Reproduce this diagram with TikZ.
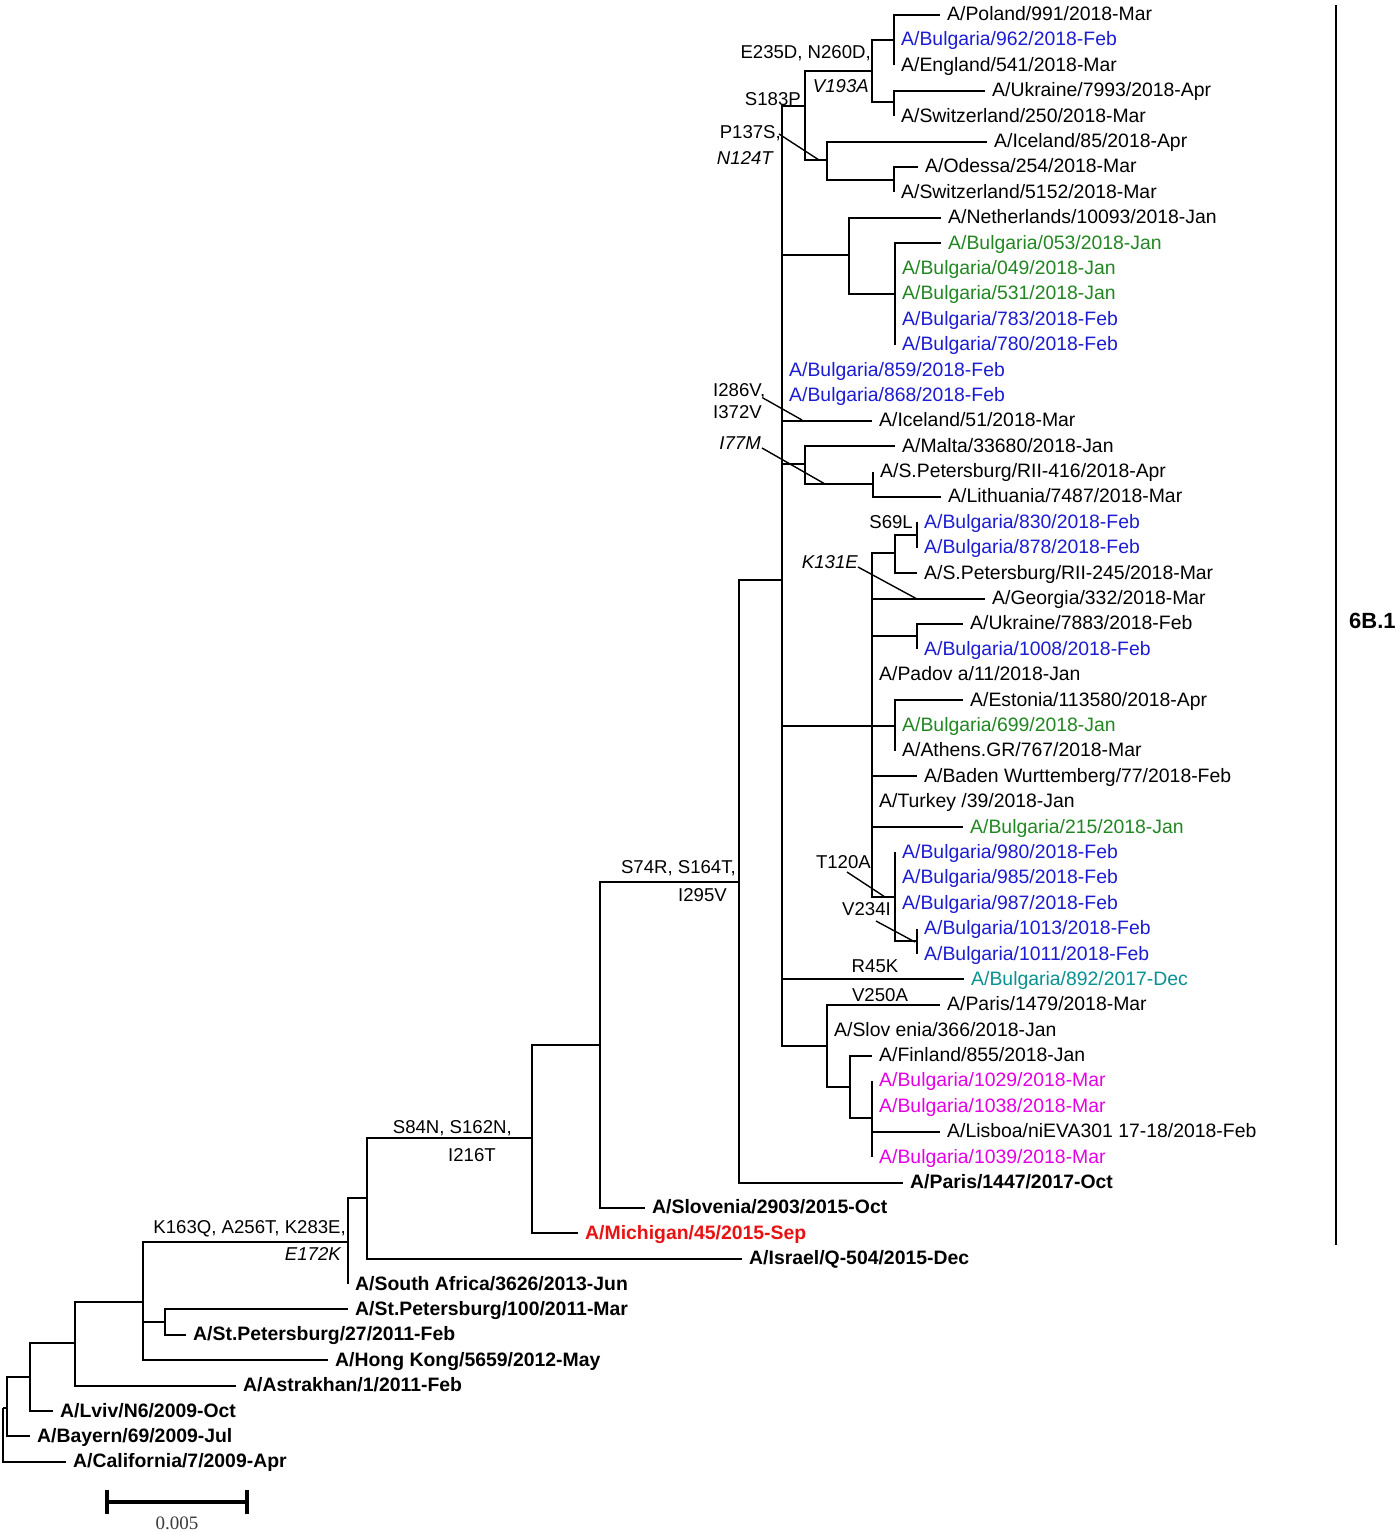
\documentclass[tikz,border=0pt]{standalone}
\usepackage{fontspec}
\setmainfont{Liberation Sans}
\newfontfamily\scalefont{Liberation Serif}
\definecolor{tblue}{RGB}{28,28,210}
\definecolor{tgreen}{RGB}{34,135,34}
\definecolor{tteal}{RGB}{10,145,145}
\definecolor{tmag}{RGB}{228,0,228}
\definecolor{tred}{RGB}{232,18,18}
\definecolor{sgray}{RGB}{60,60,60}
\begin{document}
\begin{tikzpicture}[x=1pt,y=-1pt,
  br/.style={line width=2pt},
  tip/.style={anchor=west, inner xsep=7pt, inner ysep=0pt, text height=14pt, text depth=2pt, font=\fontsize{19.4pt}{23pt}\selectfont},
  btip/.style={tip, font=\fontsize{19.4pt}{23pt}\selectfont\bfseries},
  mut/.style={inner sep=0pt, text height=13.3pt, text depth=0pt, font=\fontsize{18.6pt}{22pt}\selectfont},
  imut/.style={mut, font=\fontsize{18.6pt}{22pt}\selectfont\itshape},
  ann/.style={line width=1.4pt}]
\useasboundingbox (0,0) rectangle (1400,1532);
\fill[white] (0,0) rectangle (1400,1532);

% internal nodes
\coordinate (R) at (3,1408);
\coordinate (n7) at (7,1408);
\coordinate (n30) at (30,1377);
\coordinate (n75) at (75,1343);
\coordinate (n143) at (143,1302);
\coordinate (n165) at (165,1322);
\coordinate (n348) at (348,1242);
\coordinate (n367) at (367,1198);
\coordinate (n532) at (532,1138);
\coordinate (n600) at (600,1045);
\coordinate (n739) at (739,882);
\coordinate (n782) at (782,580);
\coordinate (a805) at (805,106);
\coordinate (a872) at (872,71);
\coordinate (a894) at (894,39.9);
\coordinate (b894) at (894,102);
\coordinate (a827) at (827,160);
\coordinate (c894) at (894,180);
\coordinate (a849) at (849,255);
\coordinate (a895) at (895,293.8);
\coordinate (b805) at (805,464);
\coordinate (a873) at (873,484);
\coordinate (k872) at (872,726);
\coordinate (c895) at (895,553);
\coordinate (a917) at (917,535);
\coordinate (b917) at (917,636);
\coordinate (d895) at (895,726);
\coordinate (e895) at (895,897);
\coordinate (d917) at (917,941);
\coordinate (b827) at (827,1046);
\coordinate (a850) at (850,1087);
\coordinate (b872) at (872,1118);

% tips
\node[tip] (t1) at (940,14.5) {A/Poland/991/2018-Mar};
\node[tip,text=tblue] (t2) at (894,39.9) {A/Bulgaria/962/2018-Feb};
\node[tip] (t3) at (894,65.3) {A/England/541/2018-Mar};
\node[tip] (t4) at (985,90.7) {A/Ukraine/7993/2018-Apr};
\node[tip] (t5) at (894,116.1) {A/Switzerland/250/2018-Mar};
\node[tip] (t6) at (987,141.5) {A/Iceland/85/2018-Apr};
\node[tip] (t7) at (918,166.8) {A/Odessa/254/2018-Mar};
\node[tip] (t8) at (894,192.2) {A/Switzerland/5152/2018-Mar};
\node[tip] (t9) at (941,217.6) {A/Netherlands/10093/2018-Jan};
\node[tip,text=tgreen] (t10) at (941,243.0) {A/Bulgaria/053/2018-Jan};
\node[tip,text=tgreen] (t11) at (895,268.4) {A/Bulgaria/049/2018-Jan};
\node[tip,text=tgreen] (t12) at (895,293.8) {A/Bulgaria/531/2018-Jan};
\node[tip,text=tblue] (t13) at (895,319.2) {A/Bulgaria/783/2018-Feb};
\node[tip,text=tblue] (t14) at (895,344.6) {A/Bulgaria/780/2018-Feb};
\node[tip,text=tblue] (t15) at (782,370.0) {A/Bulgaria/859/2018-Feb};
\node[tip,text=tblue] (t16) at (782,395.4) {A/Bulgaria/868/2018-Feb};
\node[tip] (t17) at (872,420.7) {A/Iceland/51/2018-Mar};
\node[tip] (t18) at (895,446.1) {A/Malta/33680/2018-Jan};
\node[tip] (t19) at (873,471.5) {A/S.Petersburg/RII-416/2018-Apr};
\node[tip] (t20) at (941,496.9) {A/Lithuania/7487/2018-Mar};
\node[tip,text=tblue] (t21) at (917,522.3) {A/Bulgaria/830/2018-Feb};
\node[tip,text=tblue] (t22) at (917,547.7) {A/Bulgaria/878/2018-Feb};
\node[tip] (t23) at (917,573.1) {A/S.Petersburg/RII-245/2018-Mar};
\node[tip] (t24) at (985,598.5) {A/Georgia/332/2018-Mar};
\node[tip] (t25) at (963,623.9) {A/Ukraine/7883/2018-Feb};
\node[tip,text=tblue] (t26) at (917,649.3) {A/Bulgaria/1008/2018-Feb};
\node[tip] (t27) at (872,674.7) {A/Padov a/11/2018-Jan};
\node[tip] (t28) at (963,700.0) {A/Estonia/113580/2018-Apr};
\node[tip,text=tgreen] (t29) at (895,725.4) {A/Bulgaria/699/2018-Jan};
\node[tip] (t30) at (895,750.8) {A/Athens.GR/767/2018-Mar};
\node[tip] (t31) at (917,776.2) {A/Baden Wurttemberg/77/2018-Feb};
\node[tip] (t32) at (872,801.6) {A/Turkey /39/2018-Jan};
\node[tip,text=tgreen] (t33) at (963,827.0) {A/Bulgaria/215/2018-Jan};
\node[tip,text=tblue] (t34) at (895,852.4) {A/Bulgaria/980/2018-Feb};
\node[tip,text=tblue] (t35) at (895,877.8) {A/Bulgaria/985/2018-Feb};
\node[tip,text=tblue] (t36) at (895,903.2) {A/Bulgaria/987/2018-Feb};
\node[tip,text=tblue] (t37) at (917,928.6) {A/Bulgaria/1013/2018-Feb};
\node[tip,text=tblue] (t38) at (917,954.0) {A/Bulgaria/1011/2018-Feb};
\node[tip,text=tteal] (t39) at (964,979.3) {A/Bulgaria/892/2017-Dec};
\node[tip] (t40) at (940,1004.7) {A/Paris/1479/2018-Mar};
\node[tip] (t41) at (827,1030.1) {A/Slov enia/366/2018-Jan};
\node[tip] (t42) at (872,1055.5) {A/Finland/855/2018-Jan};
\node[tip,text=tmag] (t43) at (872,1080.9) {A/Bulgaria/1029/2018-Mar};
\node[tip,text=tmag] (t44) at (872,1106.3) {A/Bulgaria/1038/2018-Mar};
\node[tip] (t45) at (940,1131.7) {A/Lisboa/niEVA301 17-18/2018-Feb};
\node[tip,text=tmag] (t46) at (872,1157.1) {A/Bulgaria/1039/2018-Mar};
\node[btip] (t47) at (903,1182.5) {A/Paris/1447/2017-Oct};
\node[btip] (t48) at (645,1207.9) {A/Slovenia/2903/2015-Oct};
\node[btip,text=tred] (t49) at (578,1233.3) {A/Michigan/45/2015-Sep};
\node[btip] (t50) at (742,1258.6) {A/Israel/Q-504/2015-Dec};
\node[btip] (t51) at (348,1284.0) {A/South Africa/3626/2013-Jun};
\node[btip] (t52) at (348,1309.4) {A/St.Petersburg/100/2011-Mar};
\node[btip] (t53) at (186,1334.8) {A/St.Petersburg/27/2011-Feb};
\node[btip] (t54) at (328,1360.2) {A/Hong Kong/5659/2012-May};
\node[btip] (t55) at (236,1385.6) {A/Astrakhan/1/2011-Feb};
\node[btip] (t56) at (53,1411.0) {A/Lviv/N6/2009-Oct};
\node[btip] (t57) at (30,1436.4) {A/Bayern/69/2009-Jul};
\node[btip] (t58) at (66,1461.8) {A/California/7/2009-Apr};

% branches
\draw[br] (R) |- (n7);   \draw[br] (R) |- (t58.west);
\draw[br] (n7) |- (n30); \draw[br] (n7) |- (t57.west);
\draw[br] (n30) |- (n75); \draw[br] (n30) |- (t56.west);
\draw[br] (n75) |- (n143); \draw[br] (n75) |- (t55.west);
\draw[br] (n143) |- (n348); \draw[br] (n143) |- (n165); \draw[br] (n143) |- (t54.west);
\draw[br] (n165) |- (t52.west); \draw[br] (n165) |- (t53.west);
\draw[br] (n348) |- (n367); \draw[br] (n348) |- (t51.west);
\draw[br] (n367) |- (n532); \draw[br] (n367) |- (t50.west);
\draw[br] (n532) |- (n600); \draw[br] (n532) |- (t49.west);
\draw[br] (n600) |- (n739); \draw[br] (n600) |- (t48.west);
\draw[br] (n739) |- (n782); \draw[br] (n739) |- (t47.west);
\foreach \c in {a805,a849,t15.west,t16.west,t17.west,b805,k872,t39.west,b827}
  \draw[br] (n782) |- (\c);
\draw[br] (a805) |- (a872); \draw[br] (a805) |- (a827);
\draw[br] (a872) |- (a894); \draw[br] (a872) |- (b894);
\foreach \c in {t1,t2,t3} \draw[br] (a894) |- (\c.west);
\foreach \c in {t4,t5} \draw[br] (b894) |- (\c.west);
\draw[br] (a827) |- (t6.west); \draw[br] (a827) |- (c894);
\foreach \c in {t7,t8} \draw[br] (c894) |- (\c.west);
\draw[br] (a849) |- (t9.west); \draw[br] (a849) |- (a895);
\foreach \c in {t10,t11,t12,t13,t14} \draw[br] (a895) |- (\c.west);
\draw[br] (b805) |- (t18.west); \draw[br] (b805) |- (a873);
\foreach \c in {t19,t20} \draw[br] (a873) |- (\c.west);
\foreach \c in {c895,t24.west,b917,t27.west,d895,t31.west,t32.west,t33.west,e895}
  \draw[br] (k872) |- (\c);
\draw[br] (c895) |- (a917); \draw[br] (c895) |- (t23.west);
\foreach \c in {t21,t22} \draw[br] (a917) |- (\c.west);
\foreach \c in {t25,t26} \draw[br] (b917) |- (\c.west);
\foreach \c in {t28,t29,t30} \draw[br] (d895) |- (\c.west);
\foreach \c in {t34.west,t35.west,t36.west,d917} \draw[br] (e895) |- (\c);
\foreach \c in {t37,t38} \draw[br] (d917) |- (\c.west);
\foreach \c in {t40.west,t41.west,a850} \draw[br] (b827) |- (\c);
\draw[br] (a850) |- (t42.west); \draw[br] (a850) |- (b872);
\foreach \c in {t43,t44,t45,t46} \draw[br] (b872) |- (\c.west);

% mutation labels
\node[mut,anchor=east] (mE235) at (871,52) {E235D, N260D,};
\node[imut,anchor=east] (mV193) at (869,86) {V193A};
\node[mut,anchor=east] (mS183) at (801,99) {S183P};
\node[mut,anchor=east] (mP137) at (781,132) {P137S,};
\node[imut,anchor=east] (mN124) at (773,158) {N124T};
\node[mut,anchor=west] (mI286) at (713,390) {I286V,};
\node[mut,anchor=west] (mI372) at (713,412) {I372V};
\node[imut,anchor=east] (mI77) at (761,443) {I77M};
\node[mut,anchor=east] (mS69) at (913,522) {S69L};
\node[imut,anchor=east] (mK131) at (858,562) {K131E};
\node[mut,anchor=east] (mT120) at (871,862) {T120A};
\node[mut,anchor=east] (mV234) at (891,909) {V234I};
\node[mut] (mR45) at (875,966) {R45K};
\node[mut] (mV250) at (880,995) {V250A};
\node[mut,anchor=east] (mS74) at (736,867) {S74R, S164T,};
\node[mut,anchor=east] (mI295) at (727,895) {I295V};
\node[mut,anchor=east] (mS84) at (512,1127) {S84N, S162N,};
\node[mut] (mI216) at (472,1155) {I216T};
\node[mut,anchor=east] (mK163) at (346,1227) {K163Q, A256T, K283E,};
\node[imut,anchor=east] (mE172) at (341,1254) {E172K};

% annotation pointers
\coordinate (pP137) at (819,160);
\coordinate (pI286) at (802,420);
\coordinate (pI77) at (825,484);
\coordinate (pK131) at (917,599);
\coordinate (pT120) at (885,897);
\coordinate (pV234) at (915,942);
\draw[ann] (779,134) -- (pP137);
\draw[ann] (763,398) -- (pI286);
\draw[ann] (762,448) -- (pI77);
\draw[ann] (858,567) -- (pK131);
\draw[ann] (847,872) -- (pT120);
\draw[ann] (876,921) -- (pV234);

% clade bracket
\coordinate (cTop) at (1336,5);
\coordinate (cBot) at (1336,1245);
\draw[line width=2pt] (cTop) -- (cBot);
\node[anchor=west, inner sep=0pt, font=\fontsize{22pt}{26pt}\selectfont\bfseries] (clade) at (1349,621) {6B.1};

% scale bar
\coordinate (sL) at (107,1502);
\coordinate (sR) at (247,1502);
\draw[line width=4pt] (sL) -- (sR);
\draw[line width=4pt] ([yshift=-12pt]sL) -- ([yshift=12pt]sL);
\draw[line width=4pt] ([yshift=-12pt]sR) -- ([yshift=12pt]sR);
\node[text=sgray, font=\scalefont\fontsize{19pt}{22pt}\selectfont] (sLab) at (177,1523) {0.005};
\end{tikzpicture}
\end{document}
